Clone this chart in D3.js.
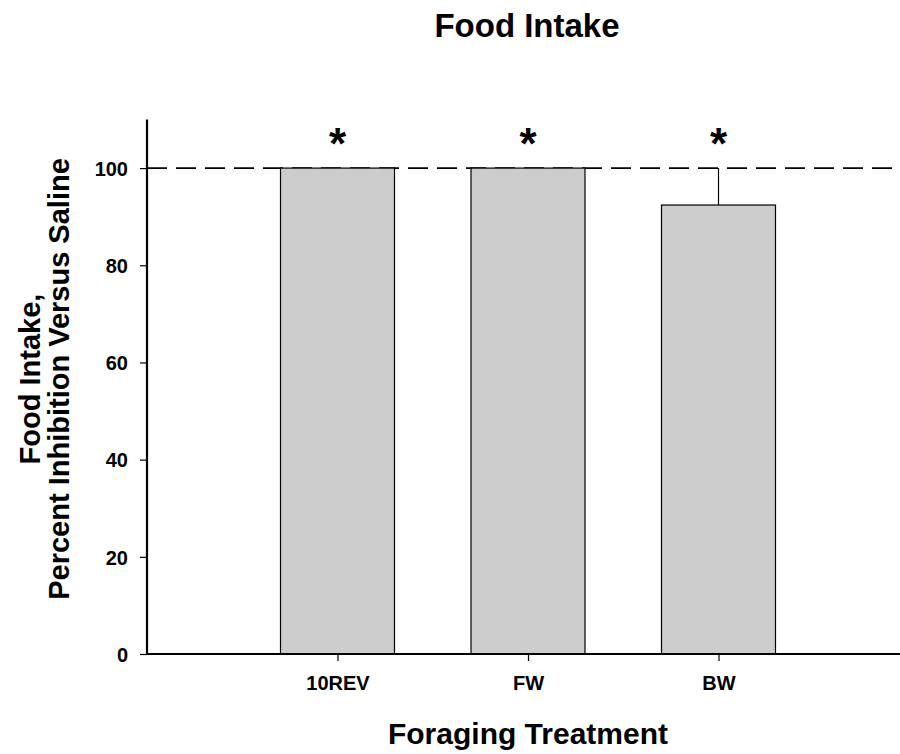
<!DOCTYPE html>
<html>
<head>
<meta charset="utf-8">
<script src="https://cdn.jsdelivr.net/npm/d3@7"></script>
<style>
  body { margin: 0; background: #fff; }
  svg { display: block; }
  text { font-family: "Liberation Sans", Arial, sans-serif; font-weight: bold; fill: #000; }
</style>
</head>
<body>
<svg id="chart"></svg>
<script>

// values
var categories = ["10REV", "FW", "BW"]
var inhibition = [100, 100, 92.4]
var errUp = [0, 0, 7.6]
var starred = [true, true, true]
var yTicks = [0, 20, 40, 60, 80, 100]
var refLine = 100

var width = 900,
    height = 754

var svg = d3.select('#chart')
            .attr('width', width)
            .attr('height', height)

var rows = categories.map((c, i) => ({cat: c, val: inhibition[i], err: errUp[i], star: starred[i], idx: i + 1}))

// plot frame
var left = 147, bottom = 654

var y = d3.scaleLinear()
    .domain([0, 110])
    .range([bottom, 119.5])

// categories sit on slots 1..3 of a 0..4 run
var x = d3.scaleLinear()
    .domain([0, 4])
    .range([left, 909])

var barW = 114

// dashed reference line at 100
svg.append('line')
   .attr('x1', left).attr('x2', width)
   .attr('y1', y(refLine)).attr('y2', y(refLine))
   .attr('stroke', '#000')
   .attr('stroke-width', 1.6)
   .attr('stroke-dasharray', '20,9')

// bars
svg.selectAll('rect.bar')
   .data(rows)
   .enter()
   .append('rect')
   .attr('class', 'bar')
   .attr('x', d => x(d.idx) - barW / 2)
   .attr('width', barW)
   .attr('y', d => y(d.val))
   .attr('height', d => y(0) - y(d.val))
   .attr('fill', '#cccccc')
   .attr('stroke', '#000')
   .attr('stroke-width', 1.2)

// upper error bars
svg.selectAll('line.err')
   .data(rows.filter(d => d.err > 0))
   .enter()
   .append('line')
   .attr('class', 'err')
   .attr('x1', d => x(d.idx)).attr('x2', d => x(d.idx))
   .attr('y1', d => y(d.val)).attr('y2', d => y(d.val + d.err))
   .attr('stroke', '#000')
   .attr('stroke-width', 1.2)

// significance stars
svg.selectAll('text.star')
   .data(rows.filter(d => d.star))
   .enter()
   .append('text')
   .attr('class', 'star')
   .attr('x', d => x(d.idx))
   .attr('y', 159)
   .attr('text-anchor', 'middle')
   .style('font-size', '44px')
   .text('*')

// y axis
var yAxis = svg.append('g')
   .attr('transform', `translate(${left},0)`)
   .call(d3.axisLeft(y).tickValues(yTicks).tickSize(7).tickPadding(12))
yAxis.select('.domain').attr('d', `M0,${y(0) + 1}V${y(110)}`).attr('stroke-width', 2.2)
yAxis.selectAll('.tick line').attr('stroke-width', 1.2)
yAxis.selectAll('.tick text').style('font-size', '20px').attr('font-family', null).attr('dy', '0.36em')

// x axis
var xAxis = svg.append('g')
   .attr('transform', `translate(0,${bottom})`)
   .call(d3.axisBottom(x).tickValues(rows.map(d => d.idx)).tickFormat(v => categories[v - 1]).tickSize(7).tickPadding(15))
xAxis.select('.domain').attr('d', `M${left - 1},0H${width}`).attr('stroke-width', 2.2)
xAxis.selectAll('.tick line').attr('stroke-width', 1.2)
xAxis.selectAll('.tick text').style('font-size', '20px').attr('font-family', null)

// titles
svg.append('text')
   .attr('x', 527).attr('y', 37)
   .attr('text-anchor', 'middle')
   .style('font-size', '33px')
   .text('Food Intake')

svg.append('text')
   .attr('x', 528).attr('y', 744)
   .attr('text-anchor', 'middle')
   .style('font-size', '30px')
   .text('Foraging Treatment')

var yLab = svg.append('text')
   .attr('transform', 'translate(0,379) rotate(-90)')
   .attr('text-anchor', 'middle')
   .style('font-size', '29px')
yLab.append('tspan').attr('x', 0).attr('y', 40).text('Food Intake,')
yLab.append('tspan').attr('x', 0).attr('y', 69).text('Percent Inhibition Versus Saline')

</script>
</body>
</html>
